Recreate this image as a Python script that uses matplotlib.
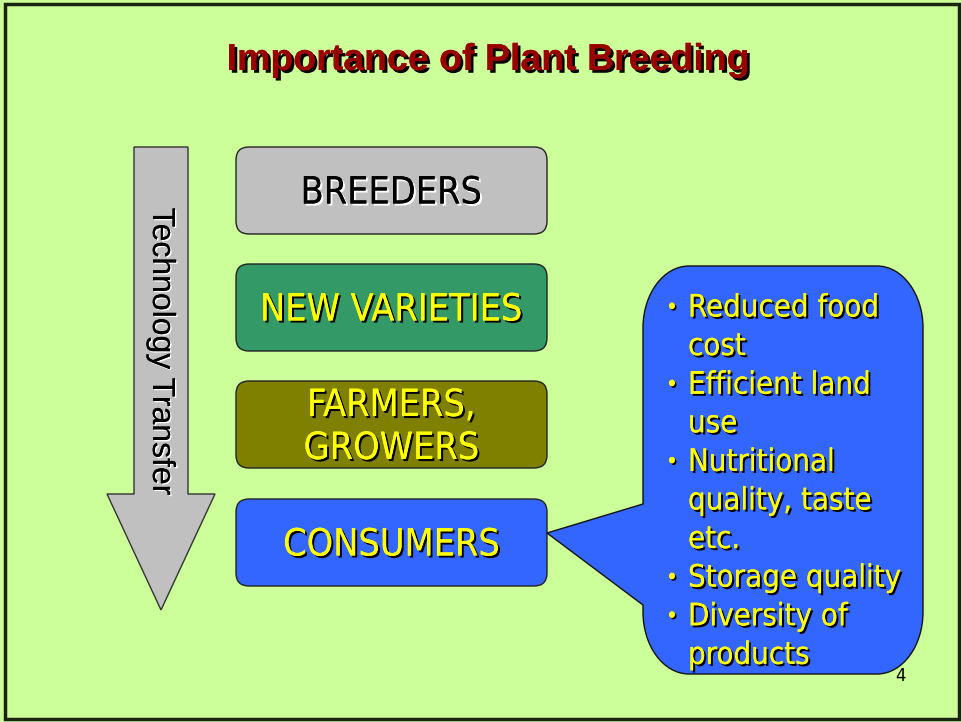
import matplotlib
matplotlib.use("Agg")
import matplotlib.pyplot as plt
import matplotlib.patheffects as pe
from matplotlib.patches import FancyBboxPatch, Polygon, PathPatch, Rectangle
from matplotlib.path import Path

# slide content
title = "Importance of Plant Breeding"
arrow_label = "Technology Transfer"
stages = ["BREEDERS", "NEW VARIETIES", "FARMERS,\nGROWERS", "CONSUMERS"]
stage_colors = ["#C0C0C0", "#339966", "#808000", "#3366FF"]
stage_text_colors = ["black", "#FFFF00", "#FFFF00", "#FFFF00"]
benefits = [
    ["Reduced food", "cost"],
    ["Efficient land", "use"],
    ["Nutritional", "quality, taste", "etc."],
    ["Storage quality"],
    ["Diversity of", "products"],
]
page_number = "4"

BG = "#CCFF99"
TEXT_FONT = dict(family="DejaVu Sans", stretch="condensed")

fig = plt.figure(figsize=(9.61, 7.22), dpi=100)
fig.patch.set_facecolor(BG)
ax = fig.add_axes([0, 0, 1, 1])
ax.set_xlim(0, 961)
ax.set_ylim(722, 0)
ax.axis("off")

# slide frame
ax.add_patch(Rectangle((5, 4), 954, 715, fill=False, ec="#1a2410", lw=2.5))


def shadow(col, d=1.5):
    return [pe.withSimplePatchShadow(offset=(d, -d), shadow_rgbFace=col, alpha=1.0),
            pe.Normal()]


ax.text(488, 60, title, ha="center", va="center", fontsize=27, fontweight="bold",
        family="Liberation Sans", color="#990000", path_effects=shadow("black", 2))

# arrow
arrow = Polygon([(134, 147), (188, 147), (188, 494), (215, 494), (161, 610),
                 (107, 494), (134, 494)], closed=True, fc="#C0C0C0", ec="#333333", lw=1)
ax.add_patch(arrow)
ax.text(161, 352, arrow_label, rotation=-90, ha="center", va="center",
        fontsize=23, family="Liberation Sans", color="black",
        path_effects=shadow("white", 1))

# stage boxes
box_x0, box_x1, box_h = 236, 547, 87
box_tops = [147, 264, 381, 499]
for lab, top, fc, tc in zip(stages, box_tops, stage_colors, stage_text_colors):
    ax.add_patch(FancyBboxPatch((box_x0, top), box_x1 - box_x0, box_h,
                                boxstyle="round,pad=0,rounding_size=13",
                                fc=fc, ec="#222222", lw=1))
    sh = "white" if tc == "black" else "black"
    ax.text((box_x0 + box_x1) / 2, top + box_h / 2 + 3, lab, ha="center", va="center",
            fontsize=27, color=tc, linespacing=1.25, path_effects=shadow(sh, 1.5),
            **TEXT_FONT)

# callout bubble
x0, x1, y0, y1 = 643, 923, 266, 674
rx, ry = 46, 62
k = 0.5523
tip = (547, 533)
pb_top, pb_bot = 504, 605
verts = [
    (x0 + rx, y0), (x1 - rx, y0),
    (x1 - rx + k * rx, y0), (x1, y0 + ry - k * ry), (x1, y0 + ry),
    (x1, y1 - ry),
    (x1, y1 - ry + k * ry), (x1 - rx + k * rx, y1), (x1 - rx, y1),
    (x0 + rx, y1),
    (x0 + rx - k * rx, y1), (x0, y1 - ry + k * ry), (x0, y1 - ry),
    (x0, pb_bot), tip, (x0, pb_top), (x0, y0 + ry),
    (x0, y0 + ry - k * ry), (x0 + rx - k * rx, y0), (x0 + rx, y0),
    (x0 + rx, y0),
]
codes = ([Path.MOVETO, Path.LINETO] + [Path.CURVE4] * 3 + [Path.LINETO] +
         [Path.CURVE4] * 3 + [Path.LINETO] + [Path.CURVE4] * 3 +
         [Path.LINETO] * 4 + [Path.CURVE4] * 3 + [Path.CLOSEPOLY])
ax.add_patch(PathPatch(Path(verts, codes), fc="#3366FF", ec="#111111", lw=1))

line_y = 308
step = 38.6
for item in benefits:
    ax.text(672, line_y, "\u2022", ha="center", va="center", fontsize=16,
            color="#FFFF00", path_effects=shadow("black", 1.2), **TEXT_FONT)
    for ln in item:
        ax.text(688, line_y, ln, ha="left", va="center", fontsize=22.3,
                color="#FFFF00", path_effects=shadow("black", 1.5), **TEXT_FONT)
        line_y += step

ax.text(901, 676, page_number, ha="center", va="center", fontsize=12,
        family="DejaVu Sans", color="black")

fig.savefig("out.png", dpi=100, facecolor=BG)
